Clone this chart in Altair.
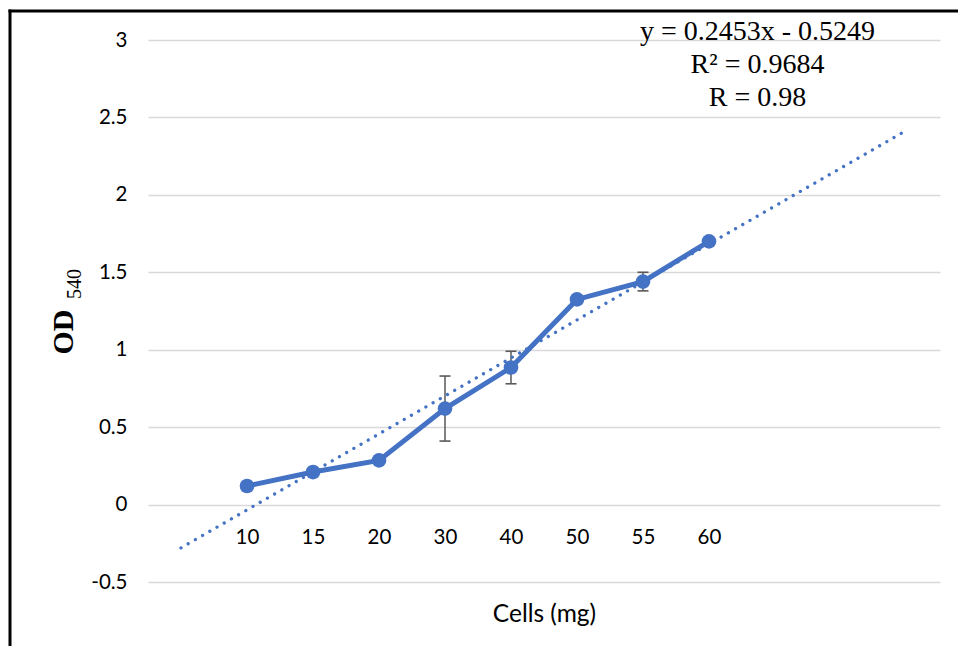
import altair as alt
import pandas as pd

# Cell mass categories and measured optical density (OD 540)
categories = ["10", "15", "20", "30", "40", "50", "55", "60"]
positions = [2, 3, 4, 5, 6, 7, 8, 9]
od_values = [0.12, 0.21, 0.285, 0.62, 0.885, 1.325, 1.44, 1.70]
od_errors = [0, 0, 0, 0.21, 0.105, 0, 0.06, 0]

# Linear trendline (category index scale)
slope = 0.2453
intercept = -0.5249
trend_span = [1, 12]
eq_lines = ["y = 0.2453x - 0.5249", "R\u00b2 = 0.9684", "R = 0.98"]

y_ticks = [-0.5, 0, 0.5, 1, 1.5, 2, 2.5, 3]

BLUE = "#4472C4"
GREY = "#595959"
GRID = "#d9d9d9"
W, H = 792, 542
Y_MIN, Y_MAX = -0.5, 3.0
zero_offset = -(H * (0 - Y_MIN) / (Y_MAX - Y_MIN))

df = pd.DataFrame({"cat": categories, "pos": positions, "od": od_values, "err": od_errors})
df["lo"] = df["od"] - df["err"]
df["hi"] = df["od"] + df["err"]

trend = pd.DataFrame({"pos": trend_span})
trend["od"] = slope * trend["pos"] + intercept

label_array = "[" + ",".join(["''"] * 2 + [f"'{c}'" for c in categories]) + "]"

x_enc = alt.X(
    "pos:Q",
    scale=alt.Scale(domain=[0.5, 12.5], nice=False, zero=False),
    axis=alt.Axis(
        values=positions,
        labelExpr=f"{label_array}[datum.value]",
        grid=False, domain=False, ticks=False,
        offset=zero_offset,
        labelPadding=23,
        labelFont="Lato", labelFontSize=20.5, labelColor="#000000",
        title="Cells (mg)",
        titleFont="Lato", titleFontSize=24.5, titleFontWeight="normal", titleColor="#000000",
        titleBaseline="middle", titleY=110,
    ),
)
y_enc = alt.Y(
    "od:Q",
    scale=alt.Scale(domain=[Y_MIN, Y_MAX], nice=False, zero=False),
    axis=alt.Axis(
        values=y_ticks,
        labelExpr="'' + datum.value",
        grid=True, gridColor=GRID, gridWidth=1.5,
        domain=False, ticks=False,
        labelPadding=21,
        labelFont="Lato", labelFontSize=20.5, labelColor="#000000",
        title=None,
    ),
)

base = alt.Chart(df)

# Error bars: vertical whisker plus caps at both ends
err_df = base.transform_filter("datum.err > 0")
err_rule = err_df.mark_rule(color=GREY, strokeWidth=1.5).encode(x=x_enc, y=alt.Y("lo:Q"), y2="hi:Q")
err_lo = err_df.mark_tick(orient="horizontal", color=GREY, size=11, thickness=1.6, opacity=1).encode(
    x=x_enc, y=alt.Y("lo:Q"))
err_hi = err_df.mark_tick(orient="horizontal", color=GREY, size=11, thickness=1.6, opacity=1).encode(
    x=x_enc, y=alt.Y("hi:Q"))

line = base.mark_line(color=BLUE, strokeWidth=5).encode(x=x_enc, y=y_enc)
points = base.mark_circle(color=BLUE, size=215, opacity=1).encode(x=x_enc, y=y_enc)

trendline = alt.Chart(trend).mark_line(
    color=BLUE, strokeWidth=3.3, strokeDash=[0.01, 8.3], strokeCap="round"
).encode(x=x_enc, y=y_enc)

one = alt.Data(values=[{}])
equation = alt.Chart(one).mark_text(
    font="Liberation Serif", fontSize=28, align="center", baseline="alphabetic",
    lineHeight=33, color="#000000",
).encode(x=alt.value(609.5), y=alt.value(0), text=alt.value(eq_lines))

y_title = alt.Chart(one).mark_text(
    font="Liberation Serif", fontSize=30, fontWeight="bold", angle=270,
    align="center", baseline="alphabetic", color="#000000",
).encode(x=alt.value(-75), y=alt.value(292), text=alt.value("OD"))
y_sub = alt.Chart(one).mark_text(
    font="Liberation Serif", fontSize=20, angle=270,
    align="center", baseline="alphabetic", color="#000000",
).encode(x=alt.value(-67), y=alt.value(244), text=alt.value("540"))

frame_top = alt.Chart(one).mark_rule(color="#000000", strokeWidth=3).encode(
    x=alt.value(-139.5), x2=alt.value(830), y=alt.value(-29))
frame_left = alt.Chart(one).mark_rule(color="#000000", strokeWidth=3).encode(
    x=alt.value(-138), y=alt.value(-30.5), y2=alt.value(620))

chart = alt.layer(
    err_rule, err_lo, err_hi, line, points, trendline,
    equation, y_title, y_sub, frame_top, frame_left,
).properties(
    width=W, height=H,
    autosize=alt.AutoSizeParams(type="none"),
    padding={"left": 148, "top": 40, "right": 18, "bottom": 64},
    background="#ffffff",
).configure_view(stroke=None)

chart.save("out.html", embed_options={"renderer": "svg", "actions": False})
